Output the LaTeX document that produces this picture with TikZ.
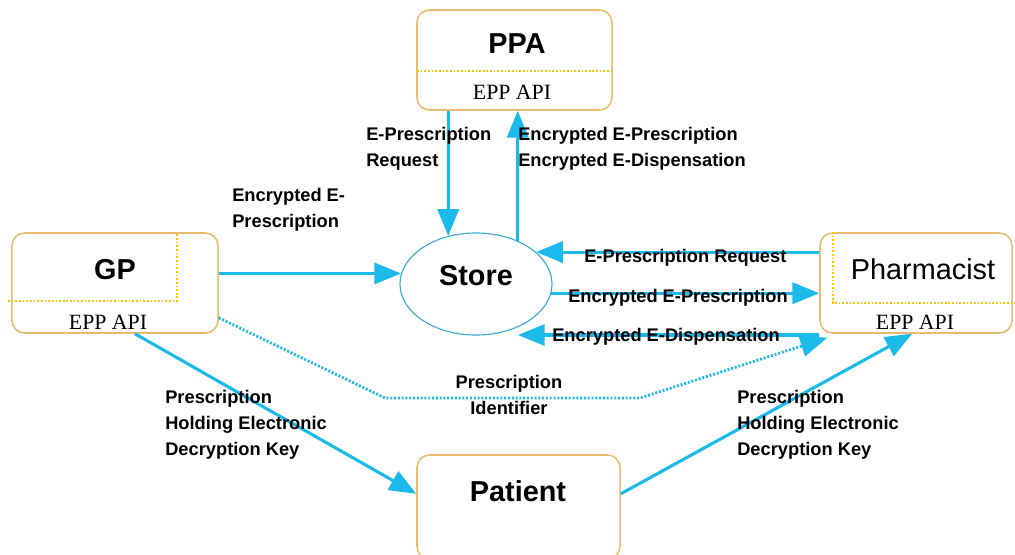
\documentclass[tikz,border=0pt]{standalone}
\usepackage{fontspec}
\setmainfont{Liberation Serif}
\setsansfont{Liberation Sans}
\usetikzlibrary{arrows.meta,shapes.geometric}
\definecolor{flowblue}{RGB}{27,186,235}
\definecolor{boxedge}{RGB}{232,188,112}
\definecolor{apiline}{RGB}{255,196,0}
\definecolor{storeedge}{RGB}{60,170,215}
\tikzset{
 party/.style={draw=boxedge,line width=1.1pt,rounded corners=9pt,inner sep=0pt,minimum height=2.5cm},
 who/.style={font=\sffamily\bfseries\fontsize{20.5}{24}\selectfont},
 apitext/.style={font=\rmfamily\fontsize{15.5}{18}\selectfont,inner sep=0pt},
 msg/.style={anchor=west,align=left,inner sep=0pt,font=\sffamily\bfseries\fontsize{13}{18.5}\selectfont},
 flow/.style={draw=flowblue,line width=2.2pt,-{Triangle[width=15pt,length=19pt]}},
 idlink/.style={draw=flowblue,line width=2pt,dash pattern=on 1.4pt off 1.3pt,-{Triangle[width=15pt,length=19pt]}},
 apisep/.style={draw=apiline,line width=1.4pt,dash pattern=on 1.2pt off 1.4pt}
}
\begin{document}
\begin{tikzpicture}[x=.025cm,y=-.025cm]
 \useasboundingbox (0,0) rectangle (1015,554);
 % the parties and the store
 \node[party,minimum width=4.875cm] (ppa) at (514.5,60) {};
 \node[party,minimum width=5.15cm] (gp) at (115,283) {};
 \node[party,minimum width=4.8cm] (ph) at (916,283) {};
 \node[party,minimum width=5.075cm,minimum height=2.6cm] (pat) at (518.5,507) {};
 \node[ellipse,draw=storeedge,line width=.8pt,minimum width=3.8cm,minimum height=2.55cm,inner sep=0pt] (store) at (476,284) {};
 \draw[apisep] (417,71)--(612,71);
 \draw[apisep] (8,301)--(177,301)--(177,234);
 \draw[apisep] (833,232)--(833,303)--(1015,303);
 \node[who] (ppaT) at (517,44) {PPA};
 \node[who] (gpT) at (115,270) {GP};
 \node[who,font=\sffamily\fontsize{20.5}{24}\selectfont] (phT) at (923,269) {Pharmacist};
 \node[who] (patT) at (518,491) {Patient};
 \node[who] (storeT) at (476,276) {Store};
 \node[apitext] (ppaA) at (512,92) {EPP API};
 \node[apitext] (gpA) at (108,322) {EPP API};
 \node[apitext] (phA) at (915,322) {EPP API};
 % messages
 \draw[flow] (ppa.south -| store.120)--(store.120);
 \draw[flow] (store.46)--(store.46 |- ppa.south);
 \draw[flow] (store.172 -| gp.east)--(store.172);
 \draw[flow] (store.28 -| ph.west)--(store.28);
 \draw[flow] (store.-7)--(store.-7 -| ph.west);
 \coordinate (dispTip) at (518,335);
 \draw[flow] (dispTip -| ph.west)--(dispTip);
 \draw[flow] ([xshift=.5cm]gp.south)--([yshift=.33cm]pat.west);
 \draw[flow] ([yshift=.33cm]pat.east)--([xshift=-.1cm]ph.south);
 \coordinate (idA) at (385,398); \coordinate (idB) at (640,398);
 \draw[idlink] ([yshift=.4cm]gp.south east)--(idA)--(idB)--([xshift=.2cm,yshift=-.1cm]ph.south west);
 \node[msg] (reqL) at (366,149) {E-Prescription\\Request};
 \node[msg] (backL) at (518,149) {Encrypted E-Prescription\\Encrypted E-Dispensation};
 \node[msg] (gpL) at (232,210) {Encrypted E-\\Prescription};
 \node[msg] (phReq) at (584,258) {E-Prescription Request};
 \node[msg] (phEnc) at (568,298) {Encrypted E-Prescription};
 \node[msg] (phDisp) at (552,337) {Encrypted E-Dispensation};
 \node[msg] (keyL) at (165,425) {Prescription\\Holding Electronic\\Decryption Key};
 \node[msg] (keyR) at (737,425) {Prescription\\Holding Electronic\\Decryption Key};
 \node[msg,anchor=center,align=center] (idL) at (509,395) {Prescription\\Identifier};
\end{tikzpicture}
\end{document}
